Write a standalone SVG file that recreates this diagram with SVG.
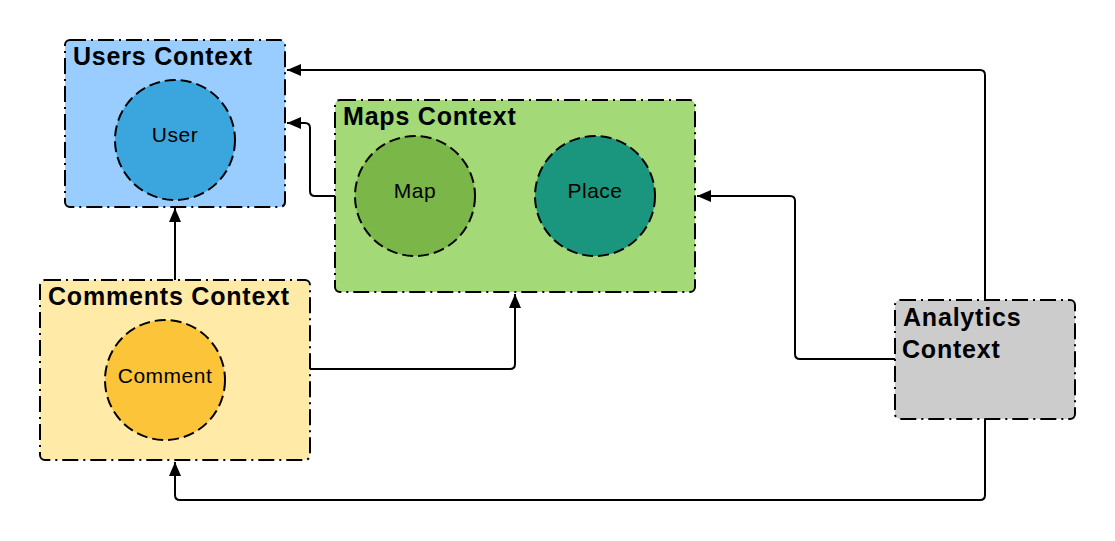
<svg xmlns="http://www.w3.org/2000/svg" width="1115" height="541" viewBox="0 0 1115 541">
  <style>
    .box { stroke: #000; stroke-width: 2; stroke-dasharray: 16 5 2 5; }
    .ent { stroke: #000; stroke-width: 2; stroke-dasharray: 11 5; }
    .title { font-family: "Liberation Sans", Arial, sans-serif; font-weight: bold; font-size: 25px; letter-spacing: 0.8px; fill: #000; }
    .lbl { font-family: "Liberation Sans", Arial, sans-serif; font-size: 21px; letter-spacing: 0.5px; fill: #000; text-anchor: middle; }
    .conn { fill: none; stroke: #000; stroke-width: 2; marker-end: url(#arrow); }
  </style>
  <defs>
    <marker id="arrow" markerUnits="userSpaceOnUse" markerWidth="16" markerHeight="14" refX="14" refY="6" orient="auto">
      <path d="M0,0 L14,6 L0,12 z" fill="#000"/>
    </marker>
  </defs>
  <rect width="1115" height="541" fill="#fff"/>

  <g id="users-context">
    <rect class="box" x="65" y="40" width="220" height="167" rx="5" fill="#99CCFF"/>
    <text class="title" x="73" y="65">Users Context</text>
    <g id="user">
      <circle class="ent" cx="175" cy="140" r="60" fill="#3AA6DD"/>
      <text class="lbl" x="175" y="142">User</text>
    </g>
  </g>

  <g id="maps-context">
    <rect class="box" x="335" y="100" width="360" height="192" rx="5" fill="#A3D977"/>
    <text class="title" x="343" y="125">Maps Context</text>
    <g id="map">
      <circle class="ent" cx="415" cy="196" r="60" fill="#7AB648"/>
      <text class="lbl" x="415" y="198">Map</text>
    </g>
    <g id="place">
      <circle class="ent" cx="595" cy="196" r="60" fill="#19967D"/>
      <text class="lbl" x="595" y="198">Place</text>
    </g>
  </g>

  <g id="comments-context">
    <rect class="box" x="40" y="280" width="270" height="180" rx="5" fill="#FFEAA7"/>
    <text class="title" x="48" y="305">Comments Context</text>
    <g id="comment">
      <circle class="ent" cx="165" cy="380" r="60" fill="#FCC438"/>
      <text class="lbl" x="165" y="383">Comment</text>
    </g>
  </g>

  <g id="analytics-context">
    <rect class="box" x="895" y="300" width="180" height="119" rx="5" fill="#CCCCCC"/>
    <text class="title" x="903" y="326">Analytics</text>
    <text class="title" x="902" y="358">Context</text>
  </g>

  <g id="connectors">
    <path class="conn" d="M985,300 L985,75 Q985,70 980,70 L287,70"/>
    <path class="conn" d="M335,196 L315,196 Q310,196 310,191 L310,128 Q310,123 305,123 L287,123"/>
    <path class="conn" d="M175,280 L175,208"/>
    <path class="conn" d="M310,369 L510,369 Q515,369 515,364 L515,294"/>
    <path class="conn" d="M895,359 L800,359 Q795,359 795,354 L795,201 Q795,196 790,196 L697,196"/>
    <path class="conn" d="M985,419 L985,495 Q985,500 980,500 L180,500 Q175,500 175,495 L175,462"/>
  </g>
</svg>
